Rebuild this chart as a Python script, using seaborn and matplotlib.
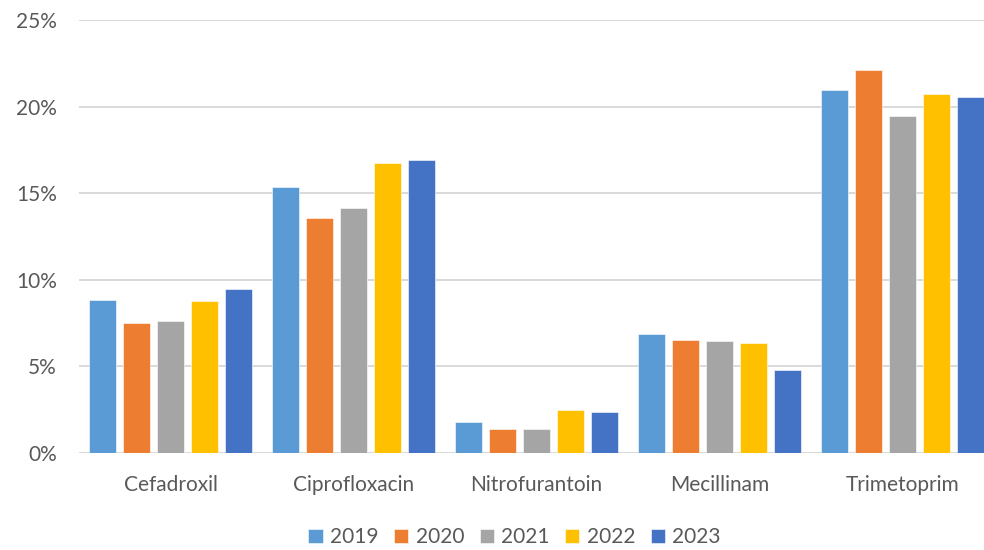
import pandas as pd
import matplotlib
matplotlib.use("Agg")
import matplotlib.pyplot as plt
import seaborn as sns
from matplotlib.ticker import PercentFormatter

# values (fraction of isolates)
drugs = ["Cefadroxil", "Ciprofloxacin", "Nitrofurantoin", "Mecillinam", "Trimetoprim"]
years = ["2019", "2020", "2021", "2022", "2023"]
v2019 = [0.0885, 0.1537, 0.0178, 0.0685, 0.2094]
v2020 = [0.0752, 0.1358, 0.0137, 0.0651, 0.2212]
v2021 = [0.0763, 0.1413, 0.0137, 0.0649, 0.1946]
v2022 = [0.0879, 0.1673, 0.0248, 0.0637, 0.2073]
v2023 = [0.0946, 0.1694, 0.0235, 0.0477, 0.2054]
colors = ["#5B9BD5", "#ED7D31", "#A5A5A5", "#FFC000", "#4472C4"]

rows = []
for yr, vals in zip(years, [v2019, v2020, v2021, v2022, v2023]):
    for d, v in zip(drugs, vals):
        rows.append({"Drug": d, "Year": yr, "Share": v})
df = pd.DataFrame(rows)

sns.set_theme(style="white")
plt.rcParams['font.family'] = ['Lato', 'DejaVu Sans']
txt = "#595959"

fig = plt.figure(figsize=(9.84, 5.5), dpi=100)
# plot area runs a bit past the right edge of the picture, like the original
ax = fig.add_axes([0.0803, 0.1764, 0.93, 0.7872])

sns.barplot(data=df, x="Drug", y="Share", hue="Year", order=drugs, hue_order=years,
            palette=colors, width=0.93, gap=0.2, ax=ax, saturation=1,
            edgecolor="white", linewidth=0.4, legend=True)

ax.set_ylim(0, 0.25)
ax.set_xlim(-0.5, 4.5)
ax.set_yticks([0, 0.05, 0.10, 0.15, 0.20, 0.25])
ax.yaxis.set_major_formatter(PercentFormatter(1.0, decimals=0))
ax.grid(axis="y", color="#D9D9D9", linewidth=1.4)
ax.set_axisbelow(True)
for s in ["top", "right", "left", "bottom"]:
    ax.spines[s].set_visible(False)
ax.set_xlabel("")
ax.set_ylabel("")
ax.tick_params(axis="both", length=0, labelsize=15, labelcolor=txt)
ax.tick_params(axis="y", pad=16)
ax.tick_params(axis="x", pad=16)

ax.legend(loc="center", bbox_to_anchor=(0.476, -0.195), ncol=5, frameon=False,
          fontsize=15, labelcolor=txt, handlelength=0.68, handleheight=0.68,
          handletextpad=0.35, columnspacing=0.75)

fig.savefig("out.png", dpi=100)
